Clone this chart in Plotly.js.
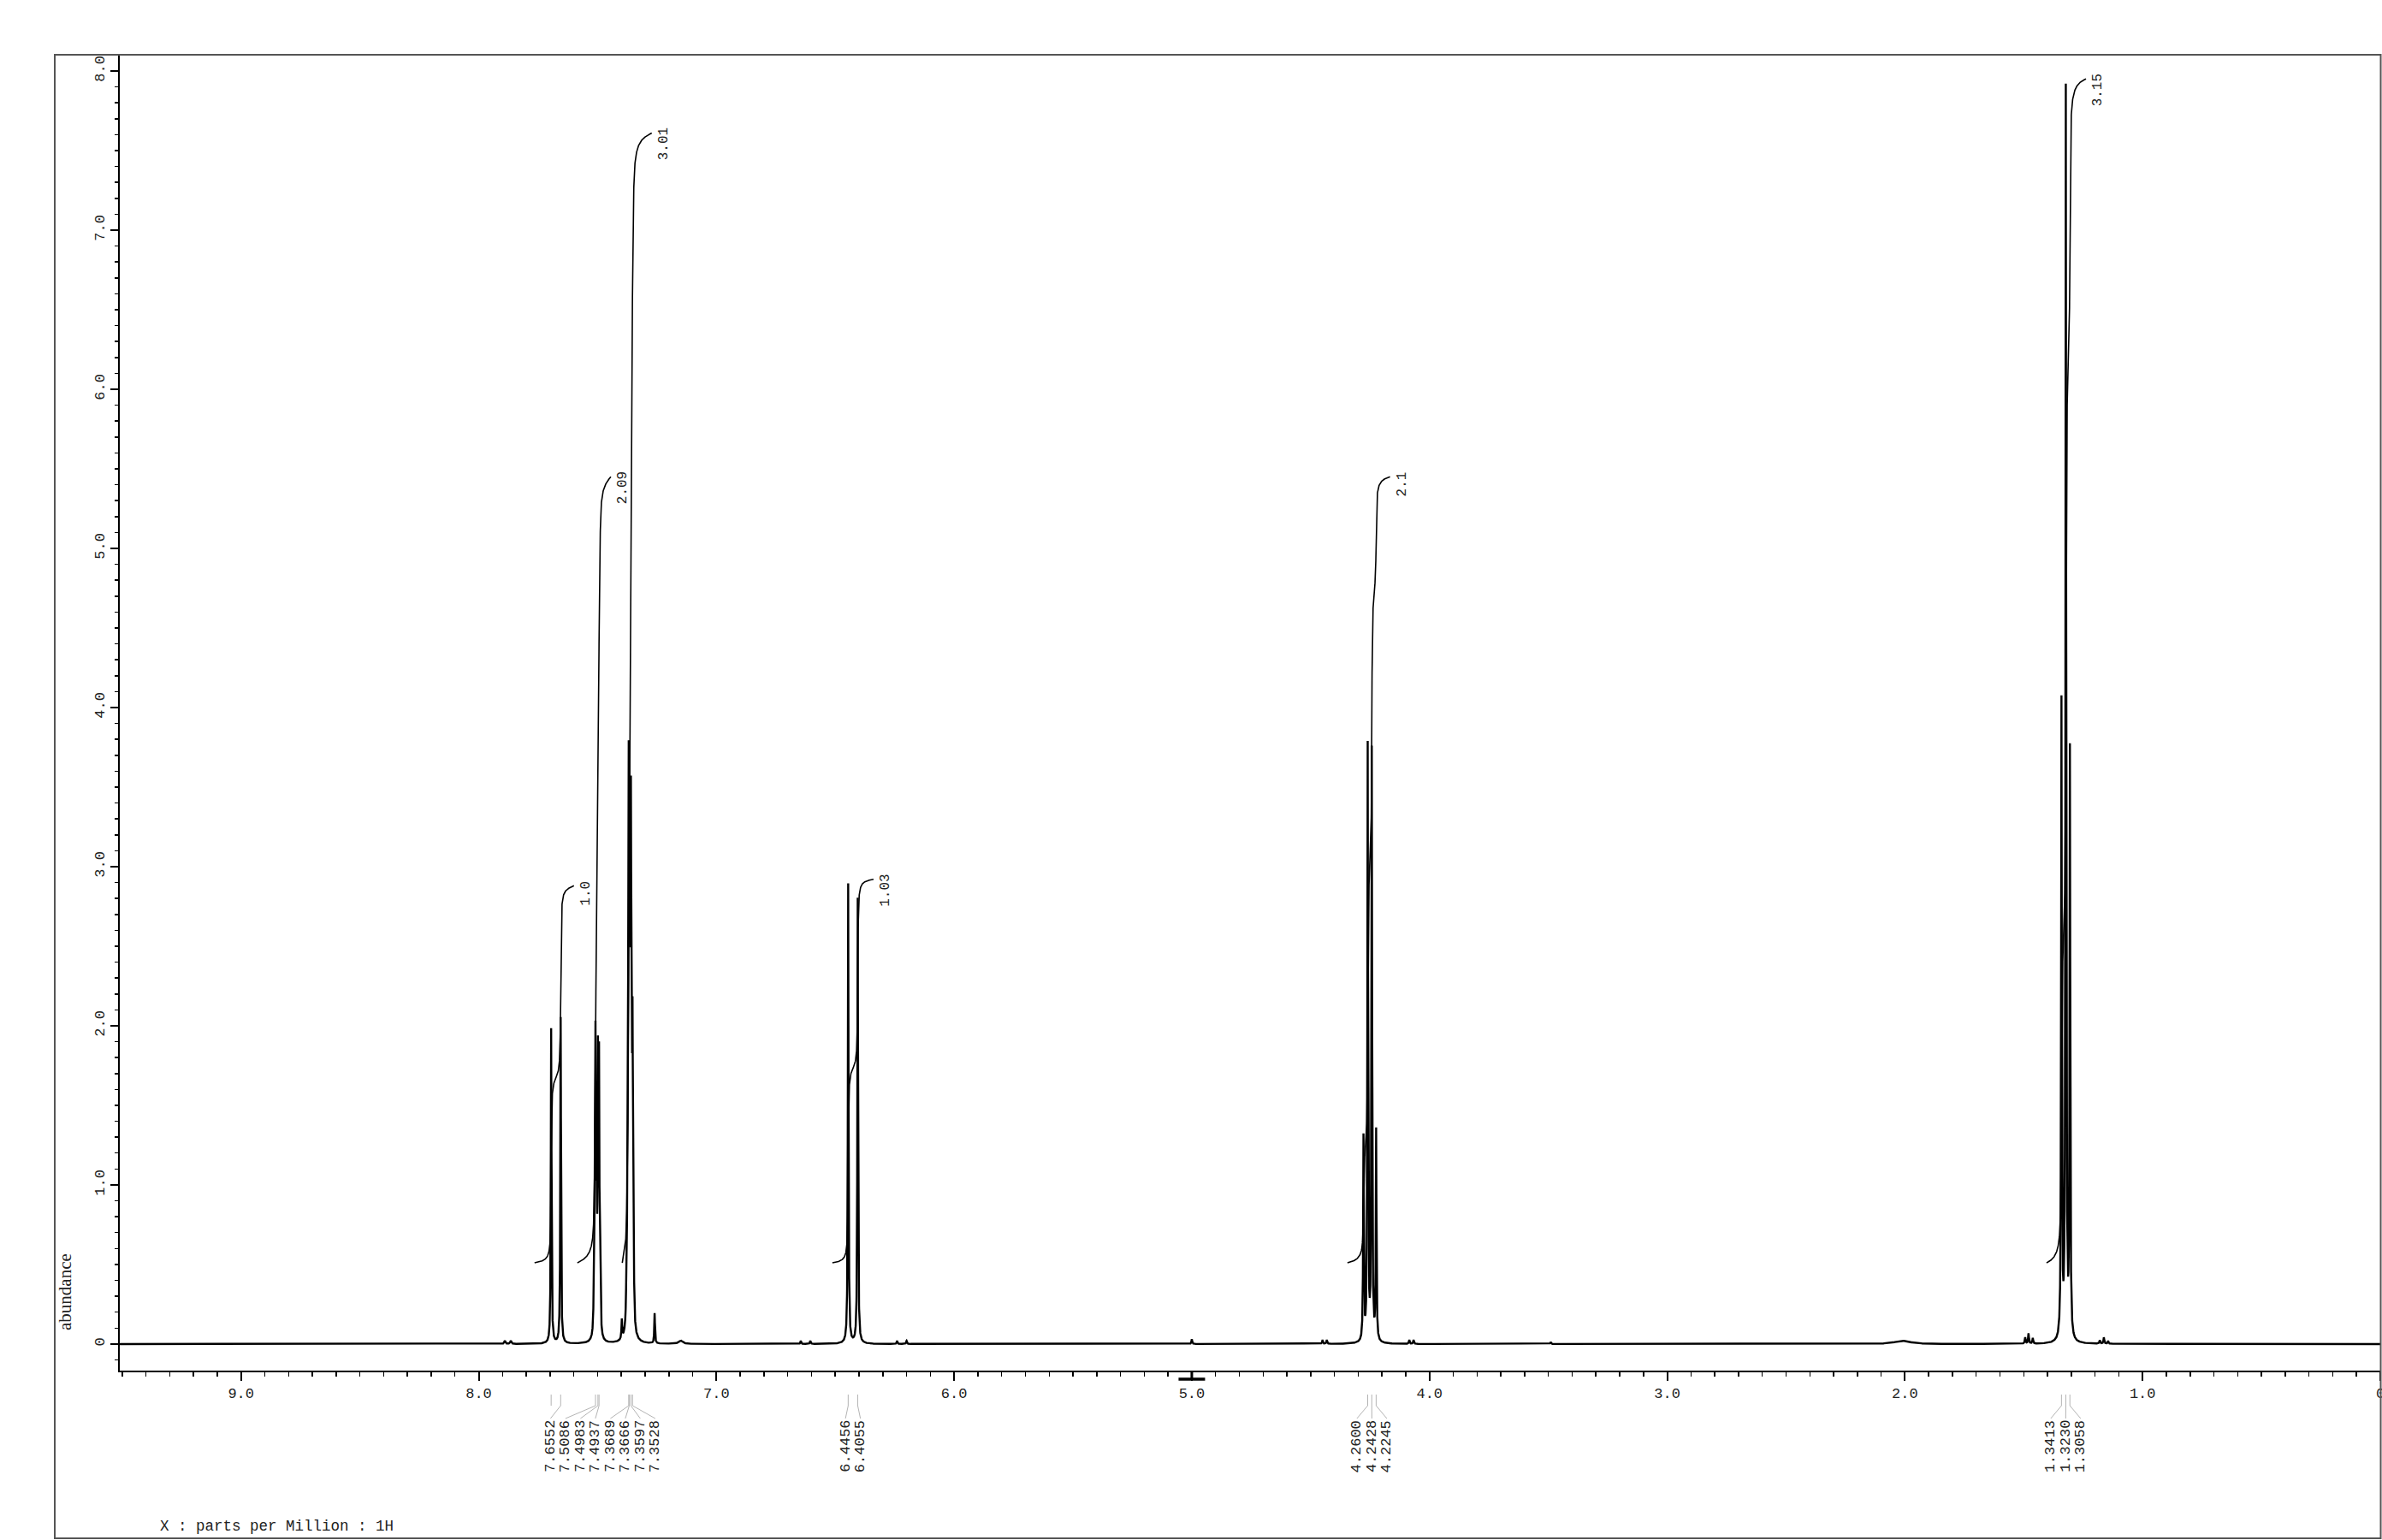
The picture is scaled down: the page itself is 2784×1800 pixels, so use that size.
<!DOCTYPE html>
<html>
<head>
<meta charset="utf-8">
<script src="https://cdn.plot.ly/plotly-3.0.1.min.js"></script>
<style>
html,body{margin:0;padding:0;background:#fff;}
#chart{width:2784px;height:1800px;}
</style>
</head>
<body>
<div id="chart"></div>
<script>
// ================= DATA =================
// Resonance lines: position (ppm), height (abundance), half width (ppm)
const peakPpm = [7.8900, 7.8650,
  7.6952, 7.6552,
  7.5150, 7.5110, 7.5086, 7.5040, 7.4983, 7.4937, 7.4890,
  7.3980, 7.3780, 7.3740, 7.3705, 7.3689, 7.3666, 7.3635, 7.3597, 7.3565, 7.3528, 7.3485,
  7.2600, 7.1500,
  6.6450, 6.6050, 6.4456, 6.4055, 6.2400, 6.2000,
  5.0000,
  4.4500, 4.4320, 4.2778, 4.2600, 4.2428, 4.2245, 4.0850, 4.0670,
  3.4900, 2.0100,
  1.4940, 1.4800, 1.4620, 1.3413, 1.3230, 1.3058, 1.1800, 1.1630, 1.1450];
const peakHeight = [0.02, 0.02,
  1.98, 2.05,
  0.30, 0.85, 1.55, 0.85, 1.60, 1.60, 0.45,
  0.12, 0.30, 0.70, 1.30, 2.02, 2.02, 1.70, 2.65, 1.40, 1.60, 0.50,
  0.19, 0.02,
  0.02, 0.02, 2.89, 2.80, 0.02, 0.02,
  0.03,
  0.025, 0.025, 1.28, 3.74, 3.71, 1.32, 0.025, 0.025,
  0.012, 0.02,
  0.04, 0.065, 0.035, 4.00, 7.85, 3.69, 0.022, 0.04, 0.018];
const peakHWHM = [0.003, 0.003,
  0.0017, 0.0017,
  0.0017, 0.0017, 0.0017, 0.0017, 0.0017, 0.0017, 0.0017,
  0.0017, 0.0017, 0.0017, 0.0017, 0.0017, 0.0017, 0.0017, 0.0017, 0.0017, 0.0017, 0.0017,
  0.0017, 0.01,
  0.002, 0.002, 0.0017, 0.0017, 0.002, 0.002,
  0.002,
  0.002, 0.002, 0.0017, 0.0017, 0.0017, 0.0017, 0.002, 0.002,
  0.002, 0.04,
  0.002, 0.002, 0.002, 0.0017, 0.0017, 0.0017, 0.002, 0.002, 0.002];

// Integrals: region (ppm), curve start and end level (abundance units), label
const intFrom  = [7.765, 7.585, 7.396, 6.512, 4.345, 1.404];
const intTo    = [7.599, 7.444, 7.272, 6.339, 4.166, 1.238];
const intBase  = [0.51, 0.51, 0.51, 0.51, 0.51, 0.51];
const intTop   = [2.88, 5.45, 7.61, 2.92, 5.45, 7.95];
const intLabel = ['1.0', '2.09', '3.01', '1.03', '2.1', '3.15'];

// Picked peaks (leader lines) and their printed labels
const pickPpm   = [7.6952, 7.6552, 7.5086, 7.4983, 7.4937, 7.3689, 7.3666, 7.3597, 7.3528,
                   6.4456, 6.4055, 4.2600, 4.2428, 4.2245, 1.3413, 1.3230, 1.3058];
const pickLabel = ['', '7.6552', '7.5086', '7.4983', '7.4937', '7.3689', '7.3666', '7.3597', '7.3528',
                   '6.4456', '6.4055', '4.2600', '4.2428', '4.2245', '1.3413', '1.3230', '1.3058'];

const centerMarkPpm = 5.0;

// Axis ticks
const xTickVals = [9, 8, 7, 6, 5, 4, 3, 2, 1, 0];
const xTickText = ['9.0', '8.0', '7.0', '6.0', '5.0', '4.0', '3.0', '2.0', '1.0', '0'];
const yTickVals = [0, 1, 2, 3, 4, 5, 6, 7, 8];
const yTickText = ['0', '1.0', '2.0', '3.0', '4.0', '5.0', '6.0', '7.0', '8.0'];

const xTitle = 'X : parts per Million : 1H';
const yTitle = 'abundance';

// ================= LAYOUT GEOMETRY =================
const W = 2784, H = 1800;
const M = {l: 140, r: 2, t: 64, b: 198};
const plotW = W - M.l - M.r, plotH = H - M.t - M.b;
const xRange = [9.51, 0];
const yRange = [-0.167, 8.102];
const pxPerPpm = plotW / (xRange[0] - xRange[1]);
const paperY = py => (H - M.b - py) / plotH;
const paperX = px => (px - M.l) / plotW;

// ================= SPECTRUM =================
function spec(x) {
  let s = 0;
  for (let i = 0; i < peakPpm.length; i++) {
    const d = (x - peakPpm[i]) / peakHWHM[i];
    s += peakHeight[i] / (1 + d * d);
  }
  return s;
}
let grid = [];
for (let x = xRange[0]; x >= xRange[1] - 1e-9; x -= 0.002) grid.push(x);
peakPpm.forEach((p, i) => {
  const w = peakHWHM[i];
  const span = Math.max(0.045, 25 * w);
  const step = Math.max(w / 5, span / 300);
  for (let x = p - span; x <= p + span; x += step) grid.push(x);
  grid.push(p);
});
grid.sort((a, b) => b - a);
const specX = [], specY = [];
let last = null;
for (const x of grid) {
  if (last !== null && Math.abs(x - last) < 1e-7) continue;
  if (x > xRange[0] || x < xRange[1] - 0.001) continue;
  specX.push(x); specY.push(spec(x)); last = x;
}

// ================= INTEGRAL CURVES =================
const intX = [], intY = [];
intFrom.forEach((a, k) => {
  const b = intTo[k];
  const n = Math.ceil((a - b) / 0.0002);
  const xx = [a], cum = [0];
  let c = 0, prev = spec(a);
  for (let j = 1; j <= n; j++) {
    const x = a - (a - b) * j / n;
    const v = spec(x);
    c += (prev + v) / 2; prev = v;
    xx.push(x); cum.push(c);
  }
  const total = c;
  for (let j = 0; j < xx.length; j++) {
    intX.push(xx[j]);
    intY.push(intBase[k] + (intTop[k] - intBase[k]) * cum[j] / total);
  }
  intX.push(null); intY.push(null);
});

// ================= SHAPES & ANNOTATIONS =================
const shapes = [];
const annotations = [];

// Outer frame
shapes.push({type: 'rect', xref: 'paper', yref: 'paper',
  x0: paperX(64), x1: paperX(2782.5), y0: paperY(1798), y1: paperY(64),
  line: {color: '#555', width: 2}, fillcolor: 'rgba(0,0,0,0)', layer: 'above'});

// Centre marker at 5.0 ppm
const markHalf = 15.5 / pxPerPpm;
shapes.push({type: 'line', xref: 'x', yref: 'paper', x0: centerMarkPpm, x1: centerMarkPpm,
  y0: paperY(1602), y1: paperY(1612), line: {color: '#000', width: 3}});
shapes.push({type: 'line', xref: 'x', yref: 'paper', x0: centerMarkPpm + markHalf, x1: centerMarkPpm - markHalf,
  y0: paperY(1612), y1: paperY(1612), line: {color: '#000', width: 3.5}});

// Peak pick groups
const groups = [];
pickPpm.forEach((p, i) => {
  const g = groups[groups.length - 1];
  if (g && Math.abs(pickPpm[g[g.length - 1]] - p) < 0.3) g.push(i); else groups.push([i]);
});
const labelSpacingPpm = 17.5 / pxPerPpm;
const leaderCol = '#b4b4b4';
groups.forEach(g => {
  const centre = g.reduce((s, i) => s + pickPpm[i], 0) / g.length;
  const labelled = g.filter(i => pickLabel[i] !== '');
  const m = labelled.length;
  g.forEach(i => {
    shapes.push({type: 'line', xref: 'x', yref: 'paper', x0: pickPpm[i], x1: pickPpm[i],
      y0: paperY(1630), y1: paperY(1643), line: {color: leaderCol, width: 1}});
  });
  labelled.forEach((i, j) => {
    const lx = centre + ((m - 1) / 2 - j) * labelSpacingPpm;
    shapes.push({type: 'line', xref: 'x', yref: 'paper', x0: pickPpm[i], x1: lx,
      y0: paperY(1643), y1: paperY(1658), line: {color: leaderCol, width: 1}});
    annotations.push({x: lx, xref: 'x', y: paperY(1658), yref: 'paper', text: pickLabel[i],
      showarrow: false, textangle: -90, xanchor: 'center', yanchor: 'top',
      font: {family: 'Liberation Mono, monospace', size: 17, color: '#222'}});
  });
});

// Integral labels
intLabel.forEach((t, k) => {
  annotations.push({x: intTo[k], xref: 'x', y: intTop[k], yref: 'y', text: t, showarrow: false,
    textangle: -90, xanchor: 'center', yanchor: 'top', xshift: 14, yshift: 8,
    font: {family: 'Liberation Mono, monospace', size: 16, color: '#222'}});
});

// Axis titles
annotations.push({x: paperX(185), xref: 'paper', y: paperY(1784), yref: 'paper', text: xTitle,
  showarrow: false, xanchor: 'left', yanchor: 'middle',
  font: {family: 'Liberation Mono, monospace', size: 17.5, color: '#222'}});
annotations.push({x: paperX(76), xref: 'paper', y: paperY(1510), yref: 'paper', text: yTitle,
  showarrow: false, textangle: -90, xanchor: 'center', yanchor: 'middle',
  font: {family: 'Liberation Serif, serif', size: 21, color: '#222'}});

// ================= PLOT =================
const traces = [
  {type: 'scatter', mode: 'lines', x: specX, y: specY, line: {color: '#000', width: 2.4}, hoverinfo: 'skip'},
  {type: 'scatter', mode: 'lines', x: intX, y: intY, connectgaps: false, line: {color: '#000', width: 1.6}, hoverinfo: 'skip'}
];

const layout = {
  width: W, height: H,
  margin: {l: M.l, r: M.r, t: M.t, b: M.b, pad: 0},
  paper_bgcolor: '#fff', plot_bgcolor: '#fff',
  showlegend: false,
  font: {family: 'Liberation Mono, monospace', size: 17, color: '#000'},
  xaxis: {
    range: xRange, autorange: false, showgrid: false, zeroline: false,
    showline: true, linecolor: '#000', linewidth: 2,
    ticks: 'outside', ticklen: 10, tickwidth: 2, tickcolor: '#000',
    tickmode: 'array', tickvals: xTickVals, ticktext: xTickText,
    ticklabeloverflow: 'allow',
    tickfont: {family: 'Liberation Mono, monospace', size: 17, color: '#222'},
    minor: {tickmode: 'linear', tick0: 0, dtick: 0.1, ticks: 'outside', ticklen: 5, tickwidth: 1.5, tickcolor: '#000', showgrid: false}
  },
  yaxis: {
    range: yRange, autorange: false, showgrid: false, zeroline: false,
    showline: true, linecolor: '#000', linewidth: 2,
    ticks: 'outside', ticklen: 9, tickwidth: 2, tickcolor: '#000',
    tickmode: 'array', tickvals: yTickVals, ticktext: yTickText, tickangle: -90,
    ticklabeloverflow: 'allow',
    tickfont: {family: 'Liberation Mono, monospace', size: 17, color: '#222'},
    minor: {tickmode: 'linear', tick0: 0, dtick: 0.1, ticks: 'outside', ticklen: 4, tickwidth: 1.5, tickcolor: '#000', showgrid: false}
  },
  shapes: shapes,
  annotations: annotations
};

Plotly.newPlot('chart', traces, layout, {staticPlot: true, displayModeBar: false});
</script>
</body>
</html>
